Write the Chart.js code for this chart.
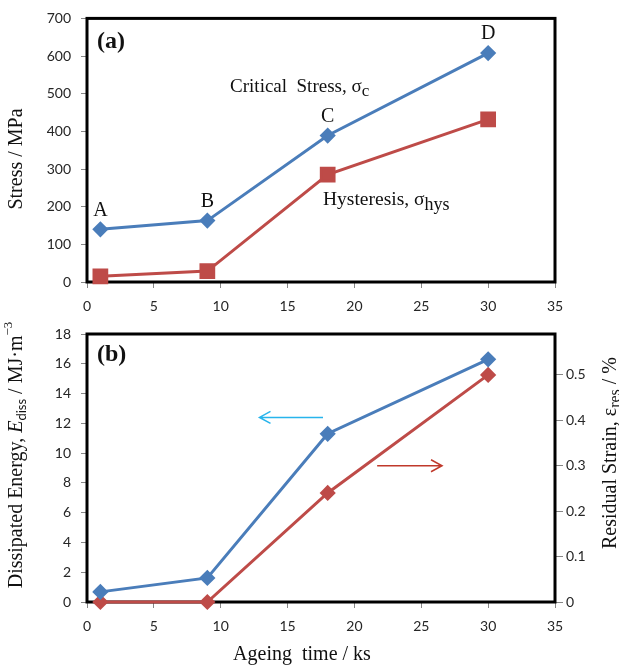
<!DOCTYPE html>
<html>
<head>
<meta charset="utf-8">
<script src="https://cdn.jsdelivr.net/npm/chart.js@4.4.1/dist/chart.umd.min.js"></script>
<style>
  html, body { margin: 0; padding: 0; background: #fff; }
  #wrap { position: relative; width: 619px; height: 669px; }
  canvas { position: absolute; left: 0; top: 0; }
</style>
</head>
<body>
<div id="wrap">
  <canvas id="chartA" width="619" height="669"></canvas>
  <canvas id="chartB" width="619" height="669"></canvas>
</div>
<script>
// ageing time (ks) and measured values
const ageingTime = [1, 9, 18, 30];
const pointLetters = ["A", "B", "C", "D"];
const criticalStress = [140, 163, 389, 608];
const hysteresisStress = [15, 29, 285, 432];
const dissipatedEnergy = [0.68, 1.62, 11.3, 16.3];
const residualStrain = [0, 0, 0.24, 0.5];

const blue = "#4A7DBA";
const red = "#BE4B48";
const tickFont = { family: "Lato", size: 14 };
const serif = "Liberation Serif";

function toPoints(xs, ys) {
  return xs.map((x, i) => ({ x: x, y: ys[i] }));
}

// draws a line of text made of several font runs (sub/superscripts)
function drawRich(ctx, parts, x, y, angle, align) {
  ctx.save();
  ctx.translate(x, y);
  ctx.rotate(angle || 0);
  let total = 0;
  parts.forEach((p) => {
    ctx.font = p.font;
    p.w = ctx.measureText(p.text).width;
    total += p.w;
  });
  let cx = align === "left" ? 0 : -total / 2;
  ctx.textBaseline = "middle";
  ctx.textAlign = "left";
  ctx.fillStyle = "#111";
  parts.forEach((p) => {
    ctx.font = p.font;
    ctx.fillText(p.text, cx, p.dy || 0);
    cx += p.w;
  });
  ctx.restore();
}

function drawArrow(ctx, x1, y1, x2, y2, color) {
  const dir = Math.sign(x2 - x1);
  ctx.save();
  ctx.strokeStyle = color;
  ctx.lineWidth = 1.5;
  ctx.beginPath();
  ctx.moveTo(x1, y1);
  ctx.lineTo(x2, y2);
  ctx.moveTo(x2 - dir * 11, y2 - 6);
  ctx.lineTo(x2, y2);
  ctx.lineTo(x2 - dir * 11, y2 + 6);
  ctx.stroke();
  ctx.restore();
}

const frame = {
  id: "frame",
  beforeDatasetsDraw(chart) {
    const a = chart.chartArea;
    const ctx = chart.ctx;
    ctx.save();
    ctx.strokeStyle = "#000";
    ctx.lineWidth = 3;
    ctx.strokeRect(a.left, a.top, a.right - a.left, a.bottom - a.top);
    ctx.restore();
  },
};

function axisOptions(min, max, step, extra) {
  return Object.assign({
    type: "linear",
    min: min,
    max: max,
    ticks: { stepSize: step, font: tickFont, color: "#262626", padding: 10, includeBounds: false },
    grid: { drawOnChartArea: false, drawTicks: true, tickLength: 6, color: "#868686" },
    border: { display: false },
  }, extra);
}

const lineDefaults = {
  borderWidth: 3,
  tension: 0,
  clip: false,
  showLine: true,
};

// ---- panel (a) ----
const annotA = {
  id: "annotA",
  afterDraw(chart) {
    const ctx = chart.ctx;
    const xs = chart.scales.x;
    const ys = chart.scales.y;
    const a = chart.chartArea;
    ctx.save();
    ctx.fillStyle = "#111";
    ctx.font = "20px " + serif;
    ctx.textAlign = "center";
    ctx.textBaseline = "middle";
    pointLetters.forEach((l, i) => {
      ctx.fillText(l, xs.getPixelForValue(ageingTime[i]), ys.getPixelForValue(criticalStress[i]) - 19);
    });
    ctx.restore();
    drawRich(ctx, [{ text: "(a)", font: "bold 24px " + serif }], a.left + 10, a.top + 23, 0, "left");
    drawRich(ctx, [
      { text: "Critical  Stress, σ", font: "19px " + serif },
      { text: "c", font: "17px " + serif, dy: 5 },
    ], xs.getPixelForValue(10.7), ys.getPixelForValue(518), 0, "left");
    drawRich(ctx, [
      { text: "Hysteresis, σ", font: "19.5px " + serif },
      { text: "hys", font: "18px " + serif, dy: 5 },
    ], xs.getPixelForValue(17.65), ys.getPixelForValue(218), 0, "left");
    drawRich(ctx, [{ text: "Stress / MPa", font: "20px " + serif }], 17, 159, -Math.PI / 2);
  },
};

new Chart(document.getElementById("chartA"), {
  type: "scatter",
  data: {
    datasets: [
      Object.assign({
        label: "Critical Stress",
        data: toPoints(ageingTime, criticalStress),
        borderColor: blue,
        backgroundColor: blue,
        pointStyle: "rectRot",
        pointRadius: 6,
      }, lineDefaults),
      Object.assign({
        label: "Hysteresis",
        data: toPoints(ageingTime, hysteresisStress),
        borderColor: red,
        backgroundColor: red,
        pointStyle: "rect",
        pointRadius: 9,
      }, lineDefaults),
    ],
  },
  options: {
    responsive: false,
    animation: false,
    devicePixelRatio: 1,
    layout: { padding: { top: 15, right: 64, left: 0, bottom: 0 } },
    plugins: { legend: { display: false }, tooltip: { enabled: false } },
    scales: {
      x: axisOptions(0, 35, 5, { afterFit(s) { s.height = 669 - 282; } }),
      y: axisOptions(0, 700, 100, { afterFit(s) { s.width = 87; } }),
    },
  },
  plugins: [frame, annotA],
});

// ---- panel (b) ----
const annotB = {
  id: "annotB",
  afterDraw(chart) {
    const ctx = chart.ctx;
    const xs = chart.scales.x;
    const ys = chart.scales.y;
    const y1 = chart.scales.y1;
    const a = chart.chartArea;
    drawRich(ctx, [{ text: "(b)", font: "bold 24px " + serif }], a.left + 10, a.top + 21, 0, "left");
    drawArrow(ctx, xs.getPixelForValue(17.65), ys.getPixelForValue(12.4),
      xs.getPixelForValue(12.9), ys.getPixelForValue(12.4), "#27B4EC");
    drawArrow(ctx, xs.getPixelForValue(21.7), y1.getPixelForValue(0.3),
      xs.getPixelForValue(26.55), y1.getPixelForValue(0.3), "#C0392B");
    drawRich(ctx, [
      { text: "Dissipated Energy, ", font: "20px " + serif },
      { text: "E", font: "italic 20px " + serif },
      { text: "diss", font: "13px Lato", dy: 5 },
      { text: " / MJ·m", font: "20px " + serif },
      { text: "−3", font: "13px " + serif, dy: -8 },
    ], 17, 455, -Math.PI / 2);
    drawRich(ctx, [
      { text: "Residual Strain, ε", font: "20px " + serif },
      { text: "res", font: "16px " + serif, dy: 5 },
      { text: " / %", font: "20px " + serif },
    ], 611, 453, -Math.PI / 2);
    drawRich(ctx, [{ text: "Ageing  time / ks", font: "20px " + serif }], 302, 655, 0);
  },
};

new Chart(document.getElementById("chartB"), {
  type: "scatter",
  data: {
    datasets: [
      Object.assign({
        label: "Dissipated Energy",
        data: toPoints(ageingTime, dissipatedEnergy),
        borderColor: blue,
        backgroundColor: blue,
        pointStyle: "rectRot",
        pointRadius: 6,
        yAxisID: "y",
      }, lineDefaults),
      Object.assign({
        label: "Residual Strain",
        data: toPoints(ageingTime, residualStrain),
        borderColor: red,
        backgroundColor: red,
        pointStyle: "rectRot",
        pointRadius: 6,
        yAxisID: "y1",
      }, lineDefaults),
    ],
  },
  options: {
    responsive: false,
    animation: false,
    devicePixelRatio: 1,
    layout: { padding: { top: 334, right: 0, left: 0, bottom: 0 } },
    plugins: { legend: { display: false }, tooltip: { enabled: false } },
    scales: {
      x: axisOptions(0, 35, 5, { afterFit(s) { s.height = 669 - 602; } }),
      y: axisOptions(0, 18, 2, { position: "left", afterFit(s) { s.width = 87; } }),
      y1: axisOptions(0, 0.59, 0.1, {
        position: "right",
        ticks: { stepSize: 0.1, font: tickFont, color: "#262626", padding: 3, includeBounds: false },
        grid: { drawOnChartArea: false, drawTicks: true, tickLength: 8, color: "#868686" },
        afterFit(s) { s.width = 619 - 555; },
      }),
    },
  },
  plugins: [frame, annotB],
});
</script>
</body>
</html>
